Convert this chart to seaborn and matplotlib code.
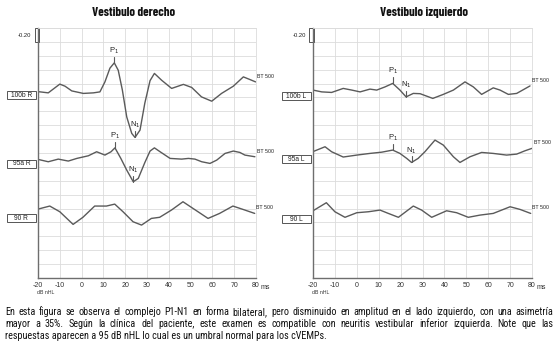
import matplotlib
matplotlib.use('Agg')
import matplotlib.pyplot as plt
import matplotlib.transforms as mtransforms
from matplotlib.patches import Rectangle
from matplotlib import font_manager
import seaborn as sns
import pandas as pd

# ---------------- data ----------------
titles = ["Vestibulo derecho", "Vestibulo izquierdo"]
trace_labels_R = ["100b R", "95a R", "90 R"]
trace_labels_L = ["100b L", "95a L", "90 L"]
x_ticks = [-20, -10, 0, 10, 20, 30, 40, 50, 60, 70, 80]

t_100bR = [-20, -15.3, -10, -7.6, -4.5, 0.8, 5.4, 8.4, 10.7, 13, 15, 16.8, 18.7, 20.7, 23, 24.5,
           26.8, 29, 31.4, 33.4, 36.7, 41.3, 46.7, 50.5, 55, 59.7, 64.2, 69.6, 74.2, 77.2, 79.8]
v_100bR = [13.42, 13.33, 13.96, 13.81, 13.47, 13.29, 13.33, 13.40, 14.12, 15.11, 15.49, 14.96, 13.53,
           11.60, 10.41, 10.12, 10.65, 12.59, 14.21, 14.73, 14.24, 13.65, 13.94, 13.72, 13.04, 12.73,
           13.29, 13.81, 14.48, 14.29, 14.12]

t_95aR = [-20, -15.3, -10.7, -6.1, -2.2, 3.1, 6.9, 10.7, 13.5, 15.3, 18, 20.7, 23.7, 26, 29, 31.4,
          33.4, 36, 40.6, 45.9, 49, 52, 55.1, 58.9, 62, 65.8, 69.6, 72.6, 74.9, 79.5]
v_95aR = [8.54, 8.37, 8.56, 8.42, 8.61, 8.80, 9.09, 8.85, 9.09, 9.37, 8.61, 7.77, 6.93, 7.17, 8.31,
          9.14, 9.37, 9.09, 8.61, 8.56, 8.61, 8.56, 8.37, 8.25, 8.49, 8.97, 9.14, 9.04, 8.85, 8.73]

t_90R = [-20, -14.6, -10, -3.9, 0.6, 6, 11.4, 15.2, 19, 23.6, 27.5, 32, 35.8, 41.2, 46.5, 51.1,
         58, 63.3, 69.4, 74, 79.4]
v_90R = [4.96, 5.18, 4.77, 3.86, 4.37, 5.18, 5.18, 5.32, 4.77, 4.05, 3.81, 4.29, 4.37, 4.89, 5.49,
         5.01, 4.29, 4.65, 5.18, 4.94, 4.65]

t_100bL = [-20, -16, -11.5, -6.2, -2.3, 1.5, 6, 9.1, 12.9, 16.4, 19.7, 22.5, 25.8, 28.9, 34.7,
           39.5, 44.1, 49.4, 53.2, 57, 62.3, 65.4, 69.2, 73, 79.1]
v_100bL = [13.53, 13.40, 13.36, 13.65, 13.53, 13.40, 13.60, 13.53, 13.76, 14.01, 13.53, 13.04,
           13.29, 13.27, 12.93, 13.22, 13.53, 14.12, 13.76, 13.22, 13.69, 13.53, 13.22, 13.29, 13.83]

t_95aL = [-20, -14.5, -11.5, -6.2, 0, 6, 11.4, 16.4, 19.7, 22.8, 25, 28, 31.1, 35.7, 39.5, 44.1,
          47.1, 51.7, 57, 62.3, 68.4, 73, 76.8, 79.9]
v_95aL = [9.10, 9.45, 9.09, 8.71, 8.85, 8.97, 9.06, 9.21, 8.97, 8.61, 8.32, 8.61, 9.09, 9.93, 9.57,
          8.73, 8.32, 8.73, 9.04, 8.97, 8.85, 8.92, 9.16, 9.33]

t_90L = [-20, -13.9, -10, -5.4, 0, 5.3, 10.6, 14.4, 19, 25.8, 29.6, 34.2, 41, 45.6, 50.9, 56.3,
         62.3, 70, 74.5, 79.4]
v_90L = [4.84, 5.42, 4.77, 4.37, 4.70, 4.77, 4.89, 4.65, 4.37, 5.18, 4.89, 4.37, 4.84, 4.70, 4.37,
         4.53, 4.65, 5.13, 4.94, 4.65]

# peak markers: (trace, label, index into that trace's arrays)
markers_R = [("100b R", "P", 10), ("100b R", "N", 15), ("95a R", "P", 9), ("95a R", "N", 12)]
markers_L = [("100b L", "P", 9), ("100b L", "N", 11), ("95a L", "P", 7), ("95a L", "N", 10)]

caption_lines = [
    "En esta figura se observa el complejo P1-N1 en forma bilateral, pero disminuido en amplitud en el lado izquierdo, con una asimetría",
    "mayor a 35%. Según la clínica del paciente, este examen es compatible con neuritis vestibular inferior izquierda. Note que las",
    "respuestas aparecen a 95 dB nHL lo cual es un umbral normal para los cVEMPs.",
]

# ---------------- style ----------------
sns.set_theme(style='white')
names = {f.name for f in font_manager.fontManager.ttflist}
TITLE_FONT = 'Barlow Condensed' if 'Barlow Condensed' in names else 'DejaVu Sans'
CAP_FONT = 'Roboto Condensed' if 'Roboto Condensed' in names else TITLE_FONT
plt.rcParams['font.family'] = ['Liberation Sans', 'DejaVu Sans']

W, H = 559, 348
fig = plt.figure(figsize=(W / 100, H / 100), dpi=100)
fig.patch.set_facecolor('white')

def fx(px):
    return px / W

def fy(py):
    return 1 - py / H

traces_R = {"100b R": (t_100bR, v_100bR), "95a R": (t_95aR, v_95aR), "90 R": (t_90R, v_90R)}
traces_L = {"100b L": (t_100bL, v_100bL), "95a L": (t_95aL, v_95aL), "90 L": (t_90L, v_90L)}

def make_df(traces):
    rows = []
    for name, (ts, vs) in traces.items():
        for t, v in zip(ts, vs):
            rows.append({"trace": name, "ms": t, "amp": v})
    return pd.DataFrame(rows)

GRID = '#dcdcdc'
LINE = '#5a5a5a'

panels = [
    (38, 218, traces_R, trace_labels_R, markers_R, [13.17, 8.24, 4.32], 134),
    (313, 219, traces_L, trace_labels_L, markers_L, [13.09, 8.56, 4.24], 424),
]

for i, (left, width, traces, labels, markers, box_y, title_x) in enumerate(panels):
    ax = fig.add_axes([fx(left), fy(278), width / W, 250 / H])
    df = make_df(traces)
    sns.lineplot(data=df, x="ms", y="amp", units="trace", estimator=None, sort=False,
                 color=LINE, linewidth=1.0, ax=ax)
    ax.set_xlim(-20, 80)
    ax.set_ylim(0, 18)
    ax.set_xticks(x_ticks)
    ax.set_xticklabels([str(v) for v in x_ticks], fontsize=5, color='#333333')
    ax.set_yticks(range(0, 19))
    ax.set_yticklabels([])
    ax.tick_params(axis='both', length=0, pad=3)
    ax.grid(True, color=GRID, linewidth=0.6)
    ax.set_xlabel('')
    ax.set_ylabel('')
    for s in ['left', 'bottom']:
        ax.spines[s].set_color('#6e6e6e')
        ax.spines[s].set_linewidth(1.0)
    for s in ['top', 'right']:
        ax.spines[s].set_color(GRID)
        ax.spines[s].set_linewidth(0.6)
    ax.set_axisbelow(True)

    trans = mtransforms.blended_transform_factory(ax.transAxes, ax.transData)
    # trace label boxes
    for lab, yb in zip(labels, box_y):
        rect = Rectangle((-0.143, yb - 0.29), 0.133, 0.58, transform=trans, clip_on=False,
                         facecolor='white', edgecolor='#555555', linewidth=0.7)
        ax.add_patch(rect)
        ax.text(-0.0765, yb, lab, transform=trans, fontsize=4.8, ha='center', va='center',
                color='#222222')
    # -0.20 scale box
    ax.add_patch(Rectangle((-0.016, 17.0), 0.022, 1.0, transform=trans, clip_on=False,
                           facecolor='white', edgecolor='#555555', linewidth=0.7))
    ax.text(-0.03, 17.45, '-0.20', transform=trans, fontsize=4.2, ha='right', va='center',
            color='#222222')
    # BT 500 labels
    for name, (ts, vs) in traces.items():
        ax.text(ts[-1] + 0.8, vs[-1] + 0.4, 'BT 500', fontsize=3.8, ha='left', va='center',
                color='#222222', clip_on=False)
    # P1 / N1 markers
    for name, kind, idx in markers:
        ts, vs = traces[name]
        t0, v0 = ts[idx], vs[idx]
        ax.plot([t0, t0], [v0, v0 + 0.45], color=LINE, linewidth=0.8, clip_on=False)
        ax.text(t0, v0 + 0.5, kind + r'$_1$', fontsize=5.5, ha='center', va='bottom',
                color='#222222')
    ax.text(1.02, -0.025, 'ms', transform=ax.transAxes, fontsize=5, ha='left', va='top',
            color='#333333')
    fig.text(fx(left - 1), fy(293), 'dB nHL', fontsize=3.8, ha='left', va='center',
             color='#333333')
    fig.text(fx(title_x), fy(12), titles[i], fontsize=9.2, fontweight='bold',
             family=[TITLE_FONT, 'DejaVu Sans'], ha='center', va='center', color='#111111')

# caption with justified lines
renderer = fig.canvas.get_renderer()
cap_y = [312, 324, 336]
x0, x1 = 5, 553
CAP_FS = 7.3
for k, (line, yy) in enumerate(zip(caption_lines, cap_y)):
    if k < len(caption_lines) - 1:
        words = line.split(' ')
        texts = [fig.text(0, fy(yy), w, fontsize=CAP_FS, family=[CAP_FONT, 'DejaVu Sans'],
                          ha='left', va='center', color='#111111') for w in words]
        widths = [t.get_window_extent(renderer).width for t in texts]
        gap = (x1 - x0 - sum(widths)) / (len(words) - 1)
        x = x0
        for t, w in zip(texts, widths):
            t.set_x(fx(x))
            x += w + gap
    else:
        fig.text(fx(x0), fy(yy), line, fontsize=CAP_FS, family=[CAP_FONT, 'DejaVu Sans'],
                 ha='left', va='center', color='#111111')

fig.savefig('out.png', dpi=100, facecolor='white')
